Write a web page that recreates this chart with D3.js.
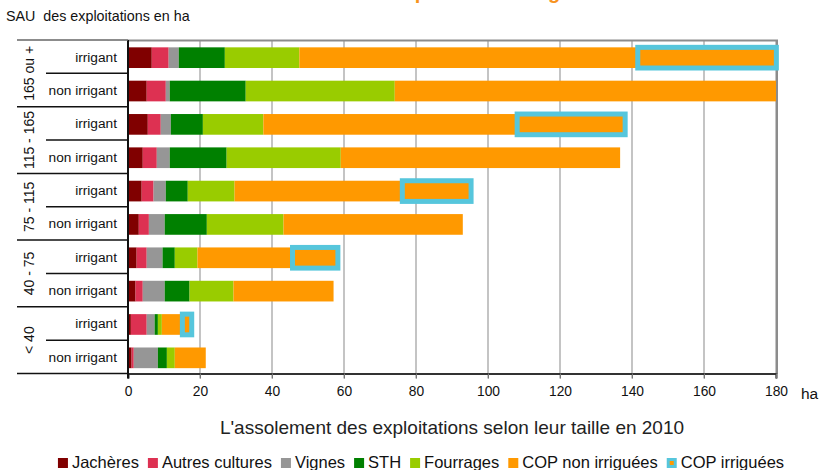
<!DOCTYPE html>
<html lang="fr">
<head>
<meta charset="UTF-8">
<title>Assolement 2010</title>
<script src="https://cdn.jsdelivr.net/npm/d3@7"></script>
<style>
	body{margin:0;background:#fff;}
	svg{display:block;font-family:"Liberation Sans",Arial,sans-serif;}
</style>
</head>
<body>
<svg id="svg" width="820" height="470"></svg>
<script>
// size classes (top to bottom) and the two rows inside each one
var groups = ["165 ou +", "115 - 165", "75 - 115", "40 - 75", "< 40"];
var rowTypes = ["irrigant", "non irrigant"];

// surfaces in ha, one value per row (10 rows, top to bottom)
var jacheres  = [6.6, 5.2, 5.5, 4.1, 3.8, 3.0, 2.4, 2.1, 0.8, 1.0];
var autres    = [4.7, 5.3, 3.6, 3.9, 3.3, 2.8, 2.8, 2.0, 4.4, 0.6];
var vignes    = [2.8, 1.1, 2.8, 3.6, 3.4, 4.4, 4.4, 6.1, 2.2, 6.7];
var sth       = [12.8, 21.1, 8.9, 15.8, 6.1, 11.7, 3.4, 6.9, 0.9, 2.5];
var fourrages = [20.7, 41.4, 16.8, 31.7, 13.0, 21.3, 6.3, 12.2, 1.1, 2.2];
var copNon    = [94.0, 105.9, 70.5, 77.6, 46.6, 49.8, 26.4, 27.8, 5.7, 8.6];
var copIrr    = [38.5, 0, 30.0, 0, 19.1, 0, 12.6, 0, 2.6, 0];

var seriesNames = ["Jachères", "Autres cultures", "Vignes", "STH", "Fourrages", "COP non irriguées", "COP irriguées"];
var seriesColors = ["#800000", "#dd3152", "#969696", "#008000", "#99cc00", "#ff9900", "#ff9900"];
var xTicks = [0, 20, 40, 60, 80, 100, 120, 140, 160, 180];

(function(){
	var svg = d3.select("#svg");
	var font = "\"Liberation Sans\",Arial,sans-serif";

	// table of rows for d3.stack
	var rows = [];
	groups.forEach(function(g, gi){
		rowTypes.forEach(function(t, ti){
			var i = gi*2 + ti;
			rows.push({id: i, group: g, type: t,
				"Jachères": jacheres[i], "Autres cultures": autres[i], "Vignes": vignes[i],
				"STH": sth[i], "Fourrages": fourrages[i],
				"COP non irriguées": copNon[i], "COP irriguées": copIrr[i]});
		});
	});

	var plotTop = 40, plotBottom = 373.5, plotLeft = 128, plotRight = 776;

	var x = d3.scaleLinear().domain([0, 180]).range([plotLeft, plotRight]);
	var rowBand = d3.scaleBand().domain(rows.map(d => d.id)).range([plotTop, plotBottom]);
	var y = d3.scaleBand().domain(rows.map(d => d.id)).range([plotTop, plotBottom])
		.paddingInner(0.38).paddingOuter(0.19);

	var color = d3.scaleOrdinal().domain(seriesNames).range(seriesColors);

	// cut off title at the very top
	svg.append("text")
		.attr("x", 308).attr("y", -1)
		.attr("font-size", 20).attr("font-weight", "bold")
		.attr("fill", "#f7931e")
		.text("Part des exploitations irrigantes");

	svg.append("text")
		.attr("x", 6).attr("y", 21)
		.attr("font-size", 14.3).attr("fill", "#111")
		.text("SAU\u00a0 des exploitations en ha");

	// gridlines
	svg.append("g")
		.selectAll("line")
		.data(xTicks.slice(1))
		.enter().append("line")
		.attr("x1", d => x(d)).attr("x2", d => x(d))
		.attr("y1", plotTop).attr("y2", plotBottom + 5)
		.attr("stroke", "#c4c4c4").attr("stroke-width", 2);

	// plot frame (top + right)
	svg.append("path")
		.attr("d", "M" + plotLeft + "," + (plotTop + 0.5) + "H" + (plotRight + 1) + "V" + plotBottom)
		.attr("fill", "none").attr("stroke", "#8c8c8c").attr("stroke-width", 2);

	// stacked bars
	var stacked = d3.stack().keys(seriesNames)(rows);

	var layers = svg.append("g")
		.selectAll("g")
		.data(stacked)
		.enter().append("g")
		.attr("fill", d => color(d.key));

	layers.filter(d => d.key != "COP irriguées")
		.selectAll("rect")
		.data(d => d)
		.enter().append("rect")
		.attr("x", d => x(d[0]))
		.attr("y", d => y(d.data.id) + 1)
		.attr("width", d => x(d[1]) - x(d[0]))
		.attr("height", y.bandwidth());

	layers.filter(d => d.key == "COP irriguées")
		.selectAll("rect")
		.data(d => d.filter(s => s[1] > s[0]))
		.enter().append("rect")
		.attr("x", d => x(d[0]))
		.attr("y", d => y(d.data.id) + 1)
		.attr("width", d => x(d[1]) - x(d[0]))
		.attr("height", y.bandwidth())
		.attr("stroke", "#56c6dc").attr("stroke-width", 5);

	// x axis
	var xAxis = svg.append("g")
		.attr("transform", "translate(0," + plotBottom + ")")
		.call(d3.axisBottom(x).tickValues(xTicks).tickSize(5).tickPadding(8));
	xAxis.select(".domain").attr("stroke", "#333").attr("stroke-width", 2);
	xAxis.selectAll(".tick line").attr("stroke", "#777");
	xAxis.selectAll("text").attr("font-size", 13.8).attr("font-family", font).attr("fill", "#111");

	svg.append("text")
		.attr("x", 801).attr("y", 399)
		.attr("font-size", 15.5).attr("fill", "#111")
		.text("ha");

	// left axis line
	svg.append("line")
		.attr("x1", plotLeft).attr("x2", plotLeft)
		.attr("y1", plotTop).attr("y2", plotBottom + 5)
		.attr("stroke", "#111").attr("stroke-width", 2);

	// label table on the left
	var table = svg.append("g");
	table.selectAll("line.row")
		.data(rows.filter(d => d.type == "non irrigant"))
		.enter().append("line")
		.attr("x1", 46).attr("x2", plotLeft)
		.attr("y1", d => rowBand(d.id)).attr("y2", d => rowBand(d.id))
		.attr("stroke", "#111").attr("stroke-width", 1.5);

	var groupLines = rows.filter(d => d.type == "irrigant").map(d => rowBand(d.id)).concat([plotBottom]);
	table.selectAll("line.grp")
		.data(groupLines)
		.enter().append("line")
		.attr("x1", 17).attr("x2", plotLeft)
		.attr("y1", d => d).attr("y2", d => d)
		.attr("stroke", (d, i) => i == 0 ? "#666" : "#111").attr("stroke-width", 1.5);

	table.selectAll("text.row")
		.data(rows)
		.enter().append("text")
		.attr("x", 117)
		.attr("y", d => rowBand(d.id) + rowBand.bandwidth()/2 + 5)
		.attr("text-anchor", "end")
		.attr("font-size", 13.7).attr("fill", "#111")
		.text(d => d.type);

	table.selectAll("text.grp")
		.data(groups)
		.enter().append("text")
		.attr("transform", (d, i) => "translate(34," + (rowBand(i*2) + rowBand.step()) + ") rotate(-90)")
		.attr("text-anchor", "middle")
		.attr("font-size", 14).attr("fill", "#111")
		.text(d => d);

	// chart title under the axis
	svg.append("text")
		.attr("x", 452).attr("y", 434)
		.attr("text-anchor", "middle")
		.attr("font-size", 19).attr("fill", "#222")
		.text("L'assolement des exploitations selon leur taille en 2010");

	// legend, centred
	var legend = svg.append("g");
	var item = legend.selectAll("g")
		.data(seriesNames)
		.enter().append("g");
	item.append("rect")
		.attr("width", 10).attr("height", 10)
		.attr("y", -10)
		.attr("fill", d => d == "COP irriguées" ? "#56c6dc" : color(d));
	item.filter(d => d == "COP irriguées").append("rect")
		.attr("x", 3).attr("y", -7).attr("width", 4).attr("height", 4)
		.attr("fill", "#ff9900");
	item.append("text")
		.attr("x", 14).attr("y", 0)
		.attr("font-size", 16.5).attr("fill", "#111")
		.text(d => d);

	var pos = 0;
	item.each(function(){
		var g = d3.select(this);
		g.attr("transform", "translate(" + pos + ",0)");
		pos += 14 + g.select("text").node().getComputedTextLength() + 9;
	});
	pos -= 9;
	legend.attr("transform", "translate(" + (421 - pos/2) + ",468)");
})();
</script>
</body>
</html>
